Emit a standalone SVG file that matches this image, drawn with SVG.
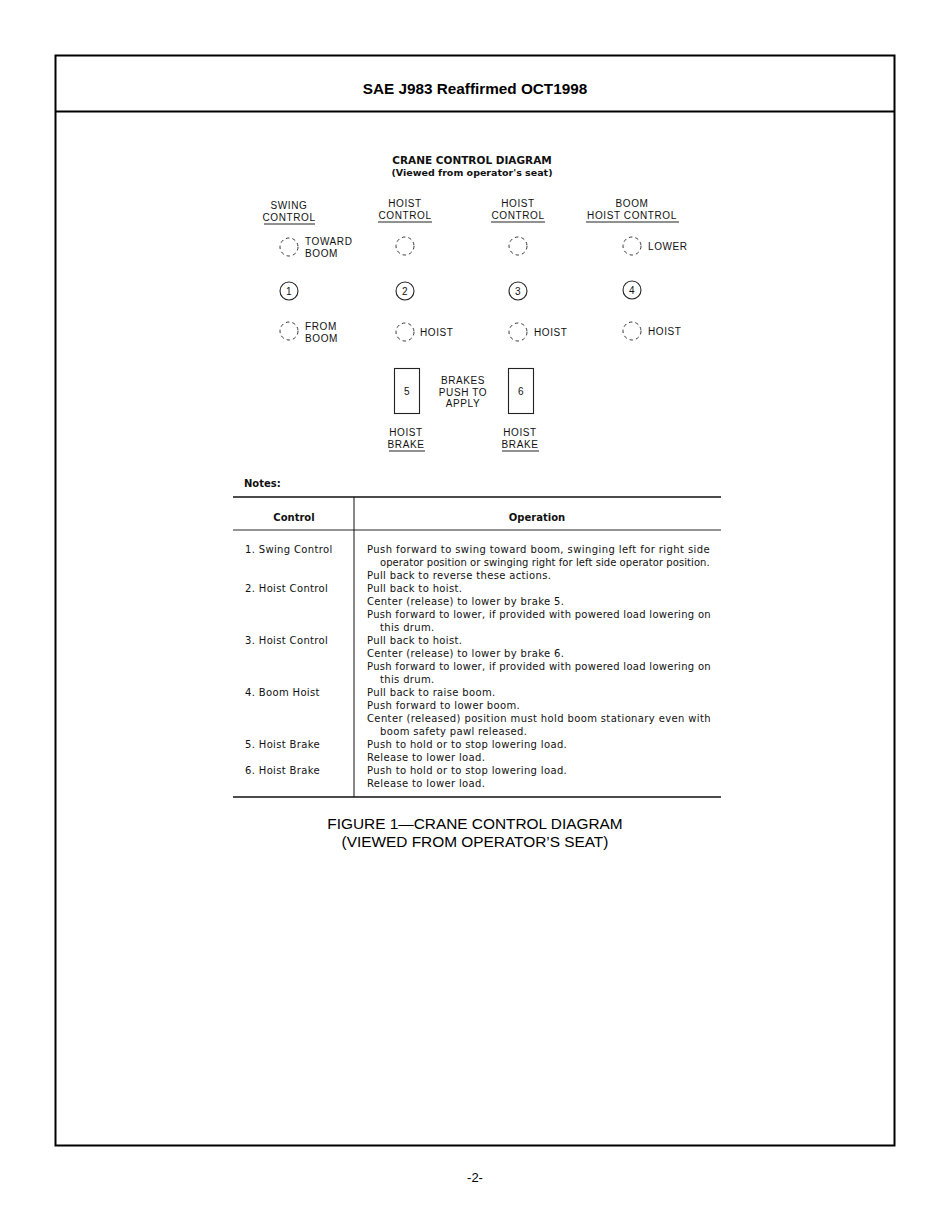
<svg xmlns="http://www.w3.org/2000/svg" width="950" height="1230" viewBox="0 0 950 1230">
<style>
.lbl{font-family:"Liberation Sans",Arial,sans-serif;font-size:10px;fill:#111;letter-spacing:0.6px}
.ctr{text-anchor:middle}
.tbl{font-family:"DejaVu Sans","Liberation Sans",sans-serif;font-size:10px;fill:#111;letter-spacing:0.35px}
.bold{font-weight:bold;letter-spacing:0}
.dash{fill:none;stroke:#222;stroke-width:0.9;stroke-dasharray:3.5 3}
.solid{fill:none;stroke:#222;stroke-width:1.1}
.ul{stroke:#222;stroke-width:1}
.cap{font-family:"Liberation Sans",Arial,sans-serif;font-size:15.4px;fill:#000;text-anchor:middle}
</style>
<rect width="950" height="1230" fill="#fff"/>
<g id="frame">
<rect x="55.5" y="55.5" width="839" height="1090" fill="none" stroke="#000" stroke-width="2"/>
<line x1="55" y1="111.5" x2="895" y2="111.5" stroke="#000" stroke-width="2"/>
<text x="475" y="94" class="cap" style="font-weight:bold;font-size:15.3px">SAE J983 Reaffirmed OCT1998</text>
<text x="475" y="1182" class="cap" style="font-size:13px">-2-</text>
</g>
<g id="title">
<text x="472" y="164" class="tbl bold ctr" style="font-size:10.5px">CRANE CONTROL DIAGRAM</text>
<text x="472" y="176" class="tbl bold ctr" style="font-size:9.5px">(Viewed from operator's seat)</text>
</g>
<g id="col-swing">
<text x="289" y="209" class="lbl ctr">SWING</text>
<text x="289" y="221" class="lbl ctr">CONTROL</text>
<line x1="264" y1="224" x2="315" y2="224" class="ul"/>
<circle cx="289" cy="247" r="9" class="dash"/>
<text x="305" y="245" class="lbl">TOWARD</text>
<text x="305" y="257" class="lbl">BOOM</text>
<circle cx="289" cy="291" r="9" class="solid"/>
<text x="289" y="295" class="lbl ctr">1</text>
<circle cx="289" cy="331" r="9" class="dash"/>
<text x="305" y="330" class="lbl">FROM</text>
<text x="305" y="342" class="lbl">BOOM</text>
</g>
<g id="col-hoist1">
<text x="405" y="207" class="lbl ctr">HOIST</text>
<text x="405" y="219" class="lbl ctr">CONTROL</text>
<line x1="378" y1="222" x2="432" y2="222" class="ul"/>
<circle cx="405" cy="246" r="9" class="dash"/>
<circle cx="405" cy="291" r="9" class="solid"/>
<text x="405" y="295" class="lbl ctr">2</text>
<circle cx="405" cy="332" r="9" class="dash"/>
<text x="420" y="336" class="lbl">HOIST</text>
</g>
<g id="col-hoist2">
<text x="518" y="207" class="lbl ctr">HOIST</text>
<text x="518" y="219" class="lbl ctr">CONTROL</text>
<line x1="491" y1="222" x2="545" y2="222" class="ul"/>
<circle cx="518" cy="246" r="9" class="dash"/>
<circle cx="518" cy="291" r="9" class="solid"/>
<text x="518" y="295" class="lbl ctr">3</text>
<circle cx="518" cy="332" r="9" class="dash"/>
<text x="534" y="336" class="lbl">HOIST</text>
</g>
<g id="col-boom">
<text x="632" y="207" class="lbl ctr">BOOM</text>
<text x="632" y="219" class="lbl ctr">HOIST CONTROL</text>
<line x1="586" y1="222" x2="679" y2="222" class="ul"/>
<circle cx="632" cy="246" r="9" class="dash"/>
<text x="648" y="250" class="lbl">LOWER</text>
<circle cx="632" cy="290" r="9" class="solid"/>
<text x="632" y="294" class="lbl ctr">4</text>
<circle cx="632" cy="331" r="9" class="dash"/>
<text x="648" y="335" class="lbl">HOIST</text>
</g>
<g id="brake5">
<rect x="394.5" y="368.5" width="25" height="45" class="solid"/>
<text x="407" y="395" class="lbl ctr">5</text>
<text x="406" y="436" class="lbl ctr">HOIST</text>
<text x="406" y="448" class="lbl ctr">BRAKE</text>
<line x1="389" y1="451" x2="425" y2="451" class="ul"/>
</g>
<g id="brake6">
<rect x="508.5" y="368.5" width="25" height="45" class="solid"/>
<text x="521" y="395" class="lbl ctr">6</text>
<text x="520" y="436" class="lbl ctr">HOIST</text>
<text x="520" y="448" class="lbl ctr">BRAKE</text>
<line x1="502" y1="451" x2="539" y2="451" class="ul"/>
</g>
<g id="brakes-note">
<text x="463" y="384" class="lbl ctr">BRAKES</text>
<text x="463" y="396" class="lbl ctr">PUSH TO</text>
<text x="463" y="407" class="lbl ctr">APPLY</text>
</g>
<g id="table">
<text x="244" y="487" class="tbl bold">Notes:</text>
<line x1="233" y1="497" x2="721" y2="497" stroke="#111" stroke-width="1.6"/>
<line x1="233" y1="530" x2="721" y2="530" stroke="#111" stroke-width="0.9"/>
<line x1="233" y1="797" x2="721" y2="797" stroke="#111" stroke-width="1.6"/>
<line x1="354" y1="497" x2="354" y2="797" stroke="#111" stroke-width="1"/>
<text x="294" y="521" class="tbl bold ctr">Control</text>
<text x="537" y="521" class="tbl bold ctr">Operation</text>
<g class="tbl">
<text x="245" y="553">1. Swing Control</text>
<text x="245" y="592">2. Hoist Control</text>
<text x="245" y="644">3. Hoist Control</text>
<text x="245" y="696">4. Boom Hoist</text>
<text x="245" y="748">5. Hoist Brake</text>
<text x="245" y="774">6. Hoist Brake</text>
<text x="367" y="553" textLength="343" lengthAdjust="spacing">Push forward to swing toward boom, swinging left for right side</text>
<text x="380" y="566" textLength="330" lengthAdjust="spacing">operator position or swinging right for left side operator position.</text>
<text x="367" y="579">Pull back to reverse these actions.</text>
<text x="367" y="592">Pull back to hoist.</text>
<text x="367" y="605">Center (release) to lower by brake 5.</text>
<text x="367" y="618" textLength="344" lengthAdjust="spacing">Push forward to lower, if provided with powered load lowering on</text>
<text x="380" y="631">this drum.</text>
<text x="367" y="644">Pull back to hoist.</text>
<text x="367" y="657">Center (release) to lower by brake 6.</text>
<text x="367" y="670" textLength="344" lengthAdjust="spacing">Push forward to lower, if provided with powered load lowering on</text>
<text x="380" y="683">this drum.</text>
<text x="367" y="696">Pull back to raise boom.</text>
<text x="367" y="709">Push forward to lower boom.</text>
<text x="367" y="722" textLength="344" lengthAdjust="spacing">Center (released) position must hold boom stationary even with</text>
<text x="380" y="735">boom safety pawl released.</text>
<text x="367" y="748">Push to hold or to stop lowering load.</text>
<text x="367" y="761">Release to lower load.</text>
<text x="367" y="774">Push to hold or to stop lowering load.</text>
<text x="367" y="787">Release to lower load.</text>
</g>
</g>
<g id="caption">
<text x="475" y="829" class="cap">FIGURE 1—CRANE CONTROL DIAGRAM</text>
<text x="475" y="847" class="cap">(VIEWED FROM OPERATOR’S SEAT)</text>
</g>
</svg>
